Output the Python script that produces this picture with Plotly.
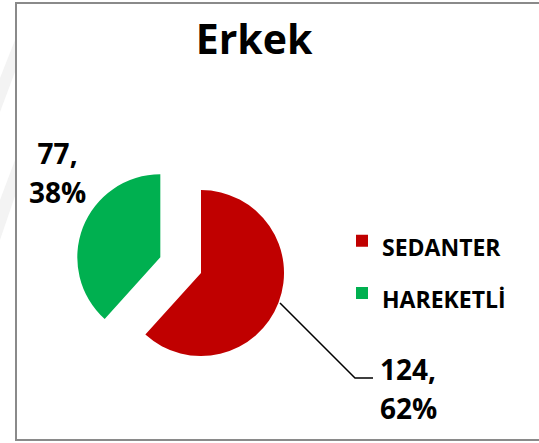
import plotly.graph_objects as go

# ---- data ----
labels = ["SEDANTER", "HAREKETLİ"]
values = [124, 77]
colors = ["#C00000", "#00B050"]
pulls = [0, 0.525]
title_text = "Erkek"

W, H = 539, 443
FONT = "Open Sans"

def px(x):
    return x / W

def py(y):
    return 1 - y / H

total = sum(values)
pcts = [round(v / total * 100) for v in values]

# legend labels (bigger legend line height via span font sizing)
legend_labels = [f'<span style="font-size:23px"><b>{l}</b></span>' for l in labels]

fig = go.Figure(
    go.Pie(
        labels=legend_labels,
        values=values,
        marker=dict(colors=colors, line=dict(width=0)),
        pull=pulls,
        sort=False,
        direction="clockwise",
        rotation=0,
        textinfo="none",
        hoverinfo="value+percent",
        domain=dict(x=[px(74.4), px(327.6)], y=[py(399.6), py(146.4)]),
    )
)

def lbl(v, p):
    return f'<span style="font-size:28px"><b>{v},</b></span><br><span style="font-size:28px"><b>{p}%</b></span>'

annotations = [
    dict(
        text=lbl(values[1], pcts[1]),
        x=px(57.5), y=py(172.5), xref="paper", yref="paper",
        xanchor="center", yanchor="middle", align="center", showarrow=False,
        font=dict(family=FONT, size=30, color="#000000"),
    ),
    dict(
        text=lbl(values[0], pcts[0]),
        x=px(378), y=py(388), xref="paper", yref="paper",
        xanchor="left", yanchor="middle", align="left", showarrow=False,
        font=dict(family=FONT, size=30, color="#000000"),
    ),
]

leader = (f"M {px(280)},{py(303)} L {px(355)},{py(378)} L {px(373)},{py(378)}")

def band(x0, x1, ya0, ya1, yb0, yb1):
    # faint background watermark band (x0 side y-range ya, x1 side y-range yb)
    return (f"M {px(x0)},{py(ya0)} L {px(x1)},{py(yb0)} L {px(x1)},{py(yb1)} "
            f"L {px(x0)},{py(ya1)} Z")

shapes = [
    dict(type="path", xref="paper", yref="paper", path=band(0, 15, 78, 112, 40, 72),
         fillcolor="#F3F3F3", line=dict(width=0), layer="below"),
    dict(type="path", xref="paper", yref="paper", path=band(0, 15, 200, 240, 160, 196),
         fillcolor="#F3F3F3", line=dict(width=0), layer="below"),
    dict(type="rect", xref="paper", yref="paper",
         x0=px(16), x1=px(600), y0=py(440), y1=py(3),
         line=dict(color="#8A8A8A", width=2), fillcolor="rgba(0,0,0,0)", layer="below"),
    dict(type="path", xref="paper", yref="paper", path=leader,
         line=dict(color="#000000", width=1.5)),
]

fig.update_layout(
    width=W, height=H,
    margin=dict(l=0, r=0, t=0, b=0, autoexpand=False),
    paper_bgcolor="#FFFFFF",
    plot_bgcolor="#FFFFFF",
    title=dict(text=f"<b>{title_text}</b>", x=px(254), xanchor="center",
               y=py(40), yanchor="middle", yref="container",
               font=dict(family=FONT, size=41, color="#000000")),
    showlegend=True,
    legend=dict(x=px(342), y=py(267), xanchor="left", yanchor="middle",
                font=dict(family=FONT, size=38, color="#000000"),
                bgcolor="rgba(0,0,0,0)", traceorder="normal"),
    annotations=annotations,
    shapes=shapes,
)

fig.write_html(
    "out.html",
    config={"displayModeBar": False},
    post_script="document.body.style.margin='0';document.body.style.overflow='hidden';",
)
